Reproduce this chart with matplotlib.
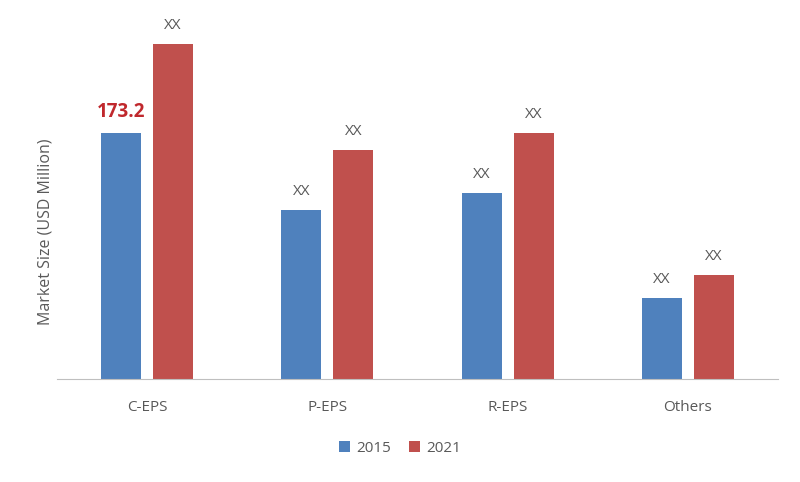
import matplotlib.pyplot as plt
import numpy as np

plt.rcParams['font.family'] = ['Open Sans', 'DejaVu Sans']

categories = ['C-EPS', 'P-EPS', 'R-EPS', 'Others']
values_2015 = [173.2, 119.0, 131.0, 57.0]
values_2021 = [235.9, 161.2, 173.2, 73.2]
labels_2015 = ['173.2', 'XX', 'XX', 'XX']
labels_2021 = ['XX', 'XX', 'XX', 'XX']

blue = '#4F81BD'
red = '#C0504D'
grey = '#595959'

fig = plt.figure(figsize=(8, 4.82), dpi=100)
ax = fig.add_axes([57/800, 103/482, 721/800, 359/482])

x = np.arange(len(categories))
w = 0.222
off = 0.144
b1 = ax.bar(x - off, values_2015, w, color=blue, label='2015')
b2 = ax.bar(x + off, values_2021, w, color=red, label='2021')

for i, (v, lab) in enumerate(zip(values_2015, labels_2015)):
    if lab == 'XX':
        ax.text(x[i] - off, v + 8, lab, ha='center', va='bottom', fontsize=11, color=grey)
    else:
        ax.text(x[i] - off, v + 8, lab, ha='center', va='bottom', fontsize=13.5,
                color='#C0282D', fontweight='bold')
for i, (v, lab) in enumerate(zip(values_2021, labels_2021)):
    ax.text(x[i] + off, v + 8, lab, ha='center', va='bottom', fontsize=11, color=grey)

ax.set_xlim(-0.5, len(categories) - 0.5)
ax.set_ylim(0, 252.8)
ax.set_xticks(x)
ax.set_xticklabels(categories, fontsize=11, color=grey)
ax.tick_params(axis='x', length=0, pad=15)
ax.set_yticks([])
for s in ['top', 'right', 'left']:
    ax.spines[s].set_visible(False)
ax.spines['bottom'].set_color('#BFBFBF')
ax.set_ylabel('Market Size (USD Million)', fontsize=11.5, color=grey)
ax.yaxis.set_label_coords(-0.005, 0.41)

fig.legend(handles=[b1, b2], loc='center', bbox_to_anchor=(400/800, 1 - 448/482),
           ncol=2, frameon=False, fontsize=11, handlelength=0.7, handleheight=0.7,
           columnspacing=1.2, handletextpad=0.4, labelcolor=grey)

fig.savefig('out.png', dpi=100)
